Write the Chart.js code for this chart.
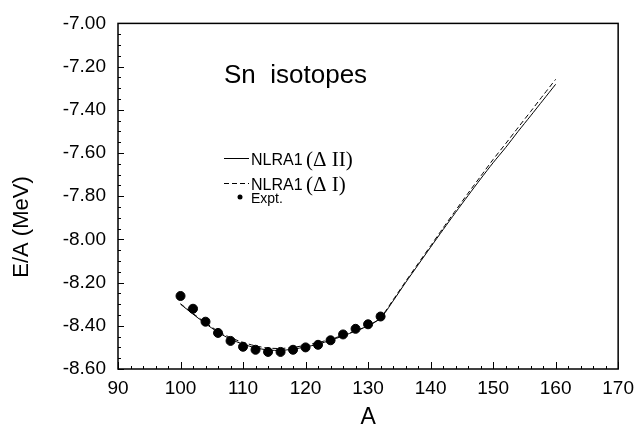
<!DOCTYPE html>
<html>
<head>
<meta charset="utf-8">
<title>Sn isotopes E/A</title>
<script src="https://cdn.jsdelivr.net/npm/chart.js@4"></script>
<style>
  html, body { margin: 0; padding: 0; background: #fff; }
  #wrap { width: 642px; height: 443px; }
</style>
</head>
<body>
<div id="wrap"><canvas id="chart" width="642" height="443"></canvas></div>
<script>
// mass number grid of the NLRA1 calculations
const massNumbers = [100, 102, 104, 106, 108, 110, 112, 114, 116, 118, 120, 122, 124, 126, 128, 130,
                     132, 134, 136, 138, 140, 142, 144, 146, 148, 150, 152, 154, 156, 158, 160];

// NLRA1 with pairing Delta II (solid)
const nlraDeltaII = [-8.300, -8.346, -8.390, -8.430, -8.462, -8.485, -8.502, -8.512, -8.514, -8.508,
                     -8.498, -8.485, -8.467, -8.447, -8.424, -8.400, -8.365, -8.285, -8.200, -8.118,
                     -8.036, -7.955, -7.875, -7.797, -7.720, -7.645, -7.575, -7.500, -7.428, -7.355, -7.282];

// NLRA1 with pairing Delta I (dashed)
const nlraDeltaI = [-8.298, -8.343, -8.386, -8.425, -8.455, -8.477, -8.493, -8.503, -8.505, -8.500,
                    -8.490, -8.478, -8.462, -8.444, -8.423, -8.401, -8.362, -8.280, -8.195, -8.112,
                    -8.030, -7.947, -7.866, -7.786, -7.708, -7.630, -7.557, -7.482, -7.408, -7.333, -7.259];

// experimental binding energy per nucleon
const exptA  = [100, 102, 104, 106, 108, 110, 112, 114, 116, 118, 120, 122, 124, 126, 128, 130, 132];
const exptEA = [-8.262, -8.321, -8.381, -8.433, -8.470, -8.497, -8.511, -8.521, -8.521, -8.511,
                -8.500, -8.488, -8.467, -8.440, -8.414, -8.393, -8.357];

const xTicks = [90, 100, 110, 120, 130, 140, 150, 160, 170];
const yTicks = [-7.00, -7.20, -7.40, -7.60, -7.80, -8.00, -8.20, -8.40, -8.60];

const toPoints = (xs, ys) => xs.map((x, i) => ({ x: x, y: ys[i] }));

const SANS = "'Liberation Sans', Arial, sans-serif";
const SERIF = "'Liberation Serif', 'DejaVu Serif', serif";

// frame, inward tick marks, titles and the hand-placed legend
const decorations = {
    id: "decorations",
    afterDraw(chart) {
        const ctx = chart.ctx;
        const a = chart.chartArea;
        const xs = chart.scales.x;
        const ys = chart.scales.y;

        ctx.save();
        ctx.strokeStyle = "#000";
        ctx.lineWidth = 1.5;
        ctx.strokeRect(a.left, a.top, a.right - a.left, a.bottom - a.top);

        ctx.lineWidth = 1;
        ctx.beginPath();
        for (let v = 90; v <= 170; v += 2) {
            const px = Math.round(xs.getPixelForValue(v)) + 0.5;
            const len = v % 10 === 0 ? 7 : 3;
            ctx.moveTo(px, a.bottom);
            ctx.lineTo(px, a.bottom - len);
        }
        for (let k = 0; k <= 32; k++) {
            const v = -8.6 + k * 0.05;
            const py = Math.round(ys.getPixelForValue(v)) + 0.5;
            const len = k % 4 === 0 ? 6 : 3;
            ctx.moveTo(a.left, py);
            ctx.lineTo(a.left + len, py);
        }
        ctx.stroke();

        ctx.fillStyle = "#000";
        ctx.textBaseline = "middle";
        ctx.textAlign = "center";

        // axis titles
        ctx.font = "23px " + SANS;
        ctx.fillText("A", (a.left + a.right) / 2, 418);
        ctx.save();
        ctx.translate(22, 227);
        ctx.rotate(-Math.PI / 2);
        ctx.font = "22px " + SANS;
        ctx.fillText("E/A (MeV)", 0, 0);
        ctx.restore();

        ctx.textAlign = "left";
        ctx.textBaseline = "alphabetic";
        ctx.font = "26px " + SANS;
        ctx.fillText("Sn  isotopes", 224, 83);

        // legend
        ctx.lineWidth = 1;
        ctx.beginPath();
        ctx.moveTo(224, 158.5);
        ctx.lineTo(249, 158.5);
        ctx.stroke();
        ctx.setLineDash([5, 3]);
        ctx.beginPath();
        ctx.moveTo(224, 183.5);
        ctx.lineTo(249, 183.5);
        ctx.stroke();
        ctx.setLineDash([]);
        ctx.beginPath();
        ctx.arc(240, 197, 2.5, 0, Math.PI * 2);
        ctx.fill();

        ctx.font = "16px " + SANS;
        ctx.fillText("NLRA1", 251, 165);
        ctx.fillText("NLRA1", 251, 190);
        ctx.font = "21px " + SERIF;
        ctx.fillText("(\u0394 II)", 306, 166);
        ctx.fillText("(\u0394 I)", 306, 191);
        ctx.font = "14px " + SANS;
        ctx.fillText("Expt.", 251, 203);
        ctx.restore();
    }
};

new Chart(document.getElementById("chart"), {
    type: "scatter",
    data: {
        datasets: [
            {
                label: "NLRA1 (\u0394 II)",
                data: toPoints(massNumbers, nlraDeltaII),
                showLine: true,
                borderColor: "#000",
                borderWidth: 1,
                pointRadius: 0,
                tension: 0.25
            },
            {
                label: "NLRA1 (\u0394 I)",
                data: toPoints(massNumbers, nlraDeltaI),
                showLine: true,
                borderColor: "#000",
                borderWidth: 1,
                borderDash: [5, 3],
                pointRadius: 0,
                tension: 0.25
            },
            {
                label: "Expt.",
                data: toPoints(exptA, exptEA),
                showLine: false,
                backgroundColor: "#000",
                borderColor: "#000",
                pointRadius: 4.5,
                pointHoverRadius: 4.5
            }
        ]
    },
    options: {
        responsive: false,
        animation: false,
        devicePixelRatio: 1,
        layout: { padding: { left: 0, top: 11, right: 18, bottom: 0 } },
        plugins: { legend: { display: false }, tooltip: { enabled: false } },
        scales: {
            x: {
                type: "linear",
                min: 90,
                max: 170,
                afterBuildTicks: s => { s.ticks = xTicks.map(v => ({ value: v })); },
                afterFit: s => { s.height = 74; },
                grid: { display: false, drawTicks: false },
                border: { display: false },
                ticks: {
                    color: "#000",
                    padding: 8,
                    font: { family: SANS, size: 19 },
                    callback: v => String(v)
                }
            },
            y: {
                type: "linear",
                min: -8.6,
                max: -7.0,
                afterBuildTicks: s => { s.ticks = yTicks.map(v => ({ value: v })); },
                afterFit: s => { s.width = 118; },
                grid: { display: false, drawTicks: false },
                border: { display: false },
                ticks: {
                    color: "#000",
                    padding: 12,
                    font: { family: SANS, size: 19 },
                    callback: v => Number(v).toFixed(2)
                }
            }
        }
    },
    plugins: [decorations]
});
</script>
</body>
</html>
